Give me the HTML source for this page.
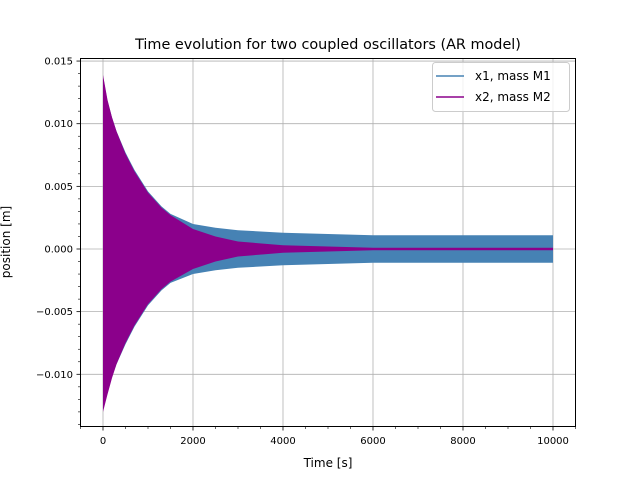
<!DOCTYPE html>
<html><head><meta charset="utf-8"><style>
body{margin:0;background:#fff}
svg{font-family:"DejaVu Sans","Liberation Sans",sans-serif}
</style></head><body>
<svg id="chart" width="640" height="480" xmlns="http://www.w3.org/2000/svg">
<rect width="640" height="480" fill="#fff"/>
<g id="grid"></g>
<g id="series"></g>
<rect x="80.5" y="58.5" width="495" height="368" fill="none" stroke="#000" stroke-width="1"/>
<g id="ticks"></g>
<text x="328" y="49" text-anchor="middle" font-size="14.4">Time evolution for two coupled oscillators (AR model)</text>
<text x="328" y="467" text-anchor="middle" font-size="12">Time [s]</text>
<text transform="translate(10,242) rotate(-90)" text-anchor="middle" font-size="12">position [m]</text>
<g>
<rect x="432.5" y="62.5" width="137" height="49" rx="3" fill="#fff" fill-opacity="0.8" stroke="#ccc"/>
<line x1="436" y1="76" x2="464" y2="76" stroke="#4682b4" stroke-width="1.5"/>
<text x="475" y="80" font-size="12">x1, mass M1</text>
<line x1="436" y1="97" x2="464" y2="97" stroke="#8b008b" stroke-width="1.5"/>
<text x="475" y="101" font-size="12">x2, mass M2</text>
</g>
</svg>
<script>
const times = [0, 100, 200, 300, 500, 700, 1000, 1300, 1500, 2000, 2500, 3000, 4000, 5000, 6000, 8000, 10000];
const x1Upper = [0.0138, 0.0118, 0.0105, 0.0094, 0.0077, 0.0063, 0.0046, 0.0034, 0.0028, 0.0020, 0.0017, 0.0015, 0.0013, 0.0012, 0.0011, 0.0011, 0.0011];
const x1Lower = [-0.0125, -0.0115, -0.0102, -0.0092, -0.0076, -0.0062, -0.0045, -0.0033, -0.0027, -0.0020, -0.0017, -0.0015, -0.0013, -0.0012, -0.0011, -0.0011, -0.0011];
const x2Upper = [0.0139, 0.0119, 0.0105, 0.0094, 0.0076, 0.0062, 0.0045, 0.0033, 0.0027, 0.0016, 0.0010, 0.0006, 0.0003, 0.0002, 0.0001, 0.0001, 0.0001];
const x2Lower = [-0.0130, -0.0116, -0.0103, -0.0092, -0.0075, -0.0061, -0.0044, -0.0032, -0.0026, -0.0016, -0.0010, -0.0006, -0.0003, -0.0002, -0.0001, -0.0001, -0.0001];
const xTicks = [0, 2000, 4000, 6000, 8000, 10000];
const yTicks = [-0.010, -0.005, 0.000, 0.005, 0.010, 0.015];
const yTickLabels = ["\u22120.010", "\u22120.005", "0.000", "0.005", "0.010", "0.015"];

const NS = "http://www.w3.org/2000/svg";
const X = t => 103 + t * 0.045;
const Y = v => 249 - v * 12530;
function mk(tag, attrs, parent) {
  const e = document.createElementNS(NS, tag);
  for (const k in attrs) e.setAttribute(k, attrs[k]);
  parent.appendChild(e);
  return e;
}
const grid = document.getElementById("grid");
const ticks = document.getElementById("ticks");
const series = document.getElementById("series");

xTicks.forEach(t => {
  const g = mk("line", {x1: X(t), x2: X(t), y1: 58, y2: 427, stroke: "#b0b0b0", "stroke-width": 0.8}, grid);
  
  
  mk("line", {x1: X(t), x2: X(t), y1: 427, y2: 430.5, stroke: "#000", "stroke-width": 0.8}, ticks);
  const l = mk("text", {x: X(t), y: 444, "text-anchor": "middle", "font-size": 10}, ticks);
  l.textContent = String(t);
  
  
});
for (let t = -500; t <= 10500; t += 500) {
  if (t % 2000 === 0) continue;
  mk("line", {x1: X(t), x2: X(t), y1: 427, y2: 429, stroke: "#000", "stroke-width": 0.6}, ticks);
}
yTicks.forEach((v, i) => {
  const g = mk("line", {x1: 80, x2: 575, y1: Y(v), y2: Y(v), stroke: "#b0b0b0", "stroke-width": 0.8}, grid);
  
  
  mk("line", {x1: 76.5, x2: 80, y1: Y(v), y2: Y(v), stroke: "#000", "stroke-width": 0.8}, ticks);
  const l = mk("text", {x: 73, y: Y(v) + 3.5, "text-anchor": "end", "font-size": 10}, ticks);
  l.textContent = yTickLabels[i];
  
  
});
for (let k = -14; k <= 15; k++) {
  if (k % 5 === 0) continue;
  mk("line", {x1: 78, x2: 80, y1: Y(k / 1000), y2: Y(k / 1000), stroke: "#000", "stroke-width": 0.6}, ticks);
}
function band(up, lo, color, name) {
  let d = "";
  times.forEach((t, i) => { d += (i ? "L" : "M") + X(t) + "," + Y(up[i]); });
  for (let i = times.length - 1; i >= 0; i--) d += "L" + X(times[i]) + "," + Y(lo[i]);
  const p = mk("path", {d: d + "Z", fill: color}, series);
  
  
}
band(x1Upper, x1Lower, "#4682b4", "series-x1");
band(x2Upper, x2Lower, "#8b008b", "series-x2");
</script>
</body></html>
